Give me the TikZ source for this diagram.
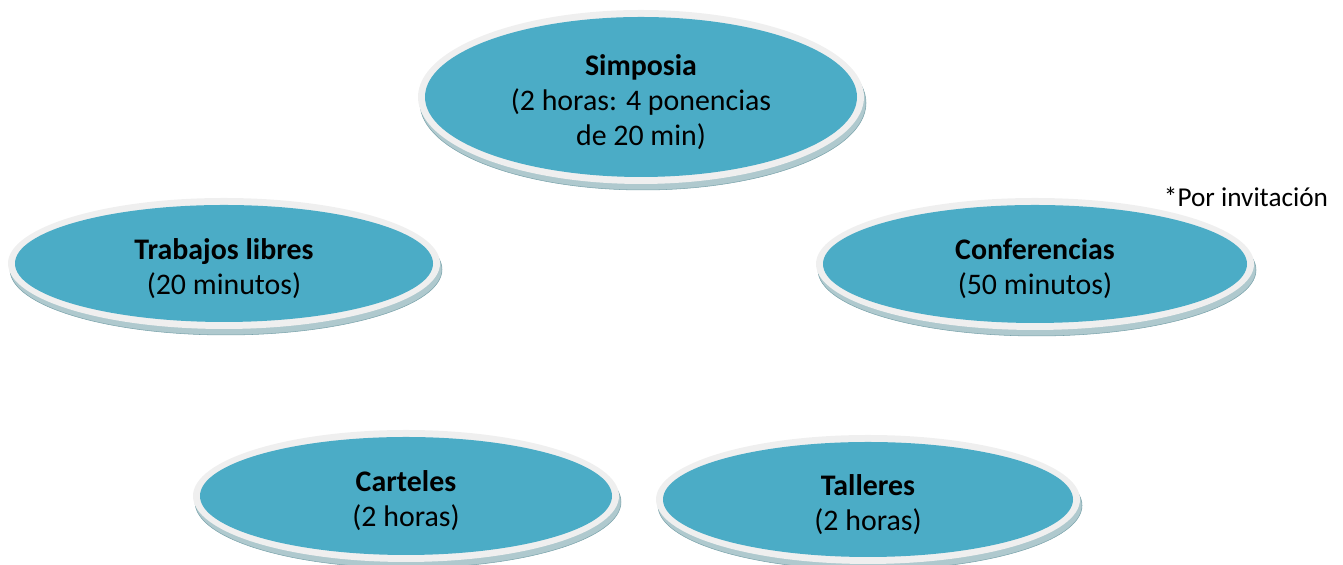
\documentclass[tikz,border=0pt]{standalone}
\usepackage{fontspec}
\setmainfont{Carlito}
\usetikzlibrary{shapes.geometric}
\definecolor{discteal}{HTML}{4BACC6}
\definecolor{discring}{HTML}{EFEFEF}
\definecolor{discrim}{HTML}{AFC9CE}
\definecolor{discline}{HTML}{7AA3AB}
\tikzset{
	disc/.style={ellipse, fill=discteal, inner sep=0pt, outer sep=0pt},
	disctext/.style={align=center, inner sep=0pt, font=\fontsize{17}{20}\selectfont},
	ring/.style={fill=discring},
	rim/.style={fill=discrim, draw=discline, line width=.3pt}
}
% disco con borde claro y canto inferior
\newcommand{\disco}[6]{%
	\fill[rim] ({#2+0.04},{#3-0.12}) ellipse ({#4+0.14} and {#5+0.14});
	\fill[ring] (#2,#3) ellipse ({#4+0.14} and {#5+0.14});
	\node[disc, minimum width=2*#4 cm, minimum height=2*#5 cm] (#1) at (#2,#3) {};
	\node[disctext] (#1-t) at ([yshift=-0.1cm]#1.center) {#6};
}
\begin{document}
\begin{tikzpicture}[line join=round, line cap=round]
	\useasboundingbox (0,0) rectangle (26.86,11.3);
	\disco{simposia}{12.82}{9.36}{4.32}{1.60}{\textbf{Simposia}\\(2 horas: 4 ponencias\\de 20 min)}
	\disco{trabajos}{4.48}{6.03}{4.18}{1.17}{\textbf{Trabajos libres}\\(20 minutos)}
	\disco{conferencias}{20.70}{6.02}{4.24}{1.18}{\textbf{Conferencias}\\(50 minutos)}
	\disco{carteles}{8.12}{1.38}{4.12}{1.18}{\textbf{Carteles}\\(2 horas)}
	\disco{talleres}{17.36}{1.31}{4.10}{1.15}{\textbf{Talleres}\\(2 horas)}
	\node[font=\fontsize{15.5}{18}\selectfont] (nota) at (24.92,7.36) {*Por invitación};
\end{tikzpicture}
\end{document}
